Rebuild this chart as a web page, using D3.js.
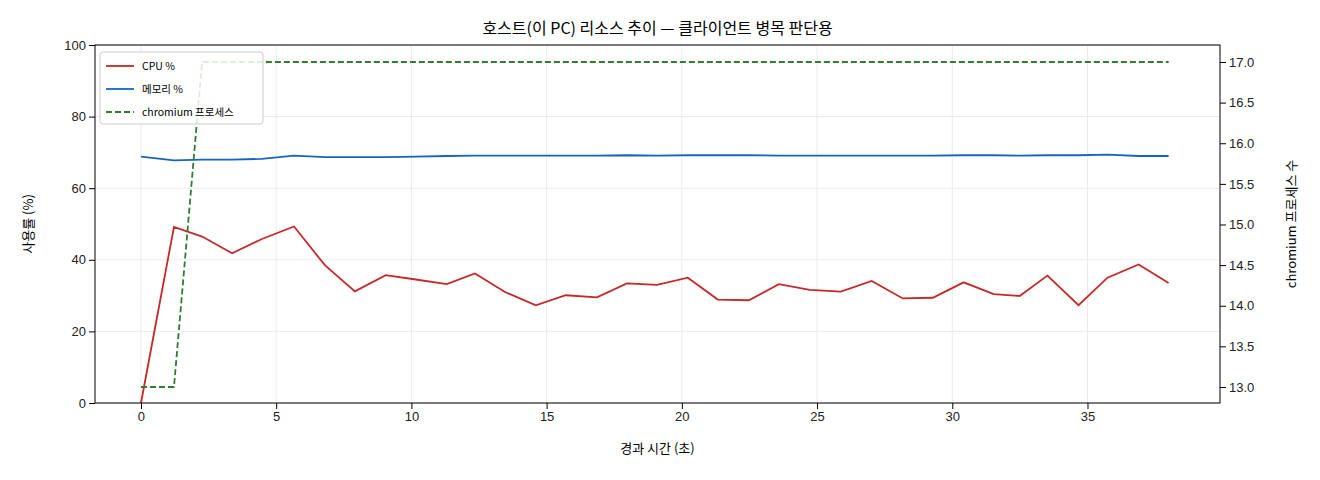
<!DOCTYPE html>
<html><head><meta charset="utf-8">
<script src="https://cdn.jsdelivr.net/npm/d3@7"></script>
<style>
body{margin:0;background:#fff;font-family:"Noto Sans CJK KR",sans-serif;}
.tick text{font-size:13px;fill:#222;}
</style></head><body>
<svg id="chart" width="1320" height="480"></svg>
<script>
const times = [0,1.22,2.26,3.37,4.47,5.66,6.80,7.91,9.05,10.16,11.31,12.35,13.46,14.60,15.71,16.86,17.97,19.08,20.22,21.33,22.48,23.59,24.73,25.88,27.02,28.17,29.28,30.42,31.53,32.49,33.52,34.67,35.74,36.89,38.00];
const cpu = [0,49.2,46.5,41.8,45.8,49.3,38.5,31.2,35.7,34.5,33.2,36.2,31,27.3,30.1,29.5,33.4,33,35,28.9,28.7,33.2,31.6,31.1,34.1,29.2,29.4,33.7,30.4,29.9,35.6,27.3,35,38.7,33.5];
const mem = [68.8,67.8,68,68,68.2,69.1,68.7,68.7,68.7,68.8,69,69.1,69.1,69.1,69.1,69.1,69.2,69.1,69.2,69.2,69.2,69.1,69.1,69.1,69.1,69.1,69.1,69.2,69.2,69.1,69.2,69.2,69.4,69,69];
const procs = [13,13,17,17,17,17,17,17,17,17,17,17,17,17,17,17,17,17,17,17,17,17,17,17,17,17,17,17,17,17,17,17,17,17,17];

const L = 95, R = 1220, T = 45, B = 403;
const svg = d3.select('#chart');
const x = d3.scaleLinear().domain([-1.7, 39.9]).range([L, R]);
const y = d3.scaleLinear().domain([0, 100]).range([B, T]);
const y2 = d3.scaleLinear().domain([12.803, 17.209]).range([B, T]);

// grid
svg.append('g').selectAll('line').data(d3.range(0, 40, 5)).join('line')
  .attr('x1', d => x(d)).attr('x2', d => x(d)).attr('y1', T).attr('y2', B)
  .attr('stroke', '#ebebeb');
svg.append('g').selectAll('line').data(d3.range(0, 101, 20)).join('line')
  .attr('x1', L).attr('x2', R).attr('y1', d => y(d)).attr('y2', d => y(d))
  .attr('stroke', '#ebebeb');

const line = (ys, sc) => d3.line().x((d, i) => x(times[i])).y(d => sc(d))(ys);
svg.append('path').attr('d', line(cpu, y)).attr('fill', 'none').attr('stroke', '#c62828').attr('stroke-width', 1.8);
svg.append('path').attr('d', line(mem, y)).attr('fill', 'none').attr('stroke', '#1565c0').attr('stroke-width', 1.8);
svg.append('path').attr('d', line(procs, y2)).attr('fill', 'none').attr('stroke', '#2e7d32').attr('stroke-width', 1.8).attr('stroke-dasharray', '6,3');

svg.append('rect').attr('x', L).attr('y', T).attr('width', R - L).attr('height', B - T)
  .attr('fill', 'none').attr('stroke', '#000').attr('stroke-width', 1);

svg.append('g').attr('transform', `translate(0,${B})`).call(d3.axisBottom(x).tickValues(d3.range(0, 40, 5)).tickSizeOuter(0)).select('.domain').remove();
svg.append('g').attr('transform', `translate(${L},0)`).call(d3.axisLeft(y).tickValues(d3.range(0, 101, 20)).tickSizeOuter(0)).select('.domain').remove();
svg.append('g').attr('transform', `translate(${R},0)`).call(d3.axisRight(y2).tickValues(d3.range(13, 17.01, 0.5)).tickFormat(d3.format('.1f')).tickSizeOuter(0)).select('.domain').remove();

svg.append('text').attr('x', (L + R) / 2).attr('y', 34).attr('text-anchor', 'middle').attr('font-size', 16).text('호스트(이 PC) 리소스 추이 — 클라이언트 병목 판단용');
svg.append('text').attr('x', (L + R) / 2).attr('y', 453).attr('text-anchor', 'middle').attr('font-size', 13).text('경과 시간 (초)');
svg.append('text').attr('transform', `translate(33,${(T + B) / 2}) rotate(-90)`).attr('text-anchor', 'middle').attr('font-size', 13).text('사용률 (%)');
svg.append('text').attr('transform', `translate(1296,${(T + B) / 2}) rotate(-90)`).attr('text-anchor', 'middle').attr('font-size', 13).text('chromium 프로세스 수');

// legend
const legendItems = [['CPU %', '#c62828', null], ['메모리 %', '#1565c0', null], ['chromium 프로세스', '#2e7d32', '6,3']];
const lg = svg.append('g').attr('transform', 'translate(100,52)');
lg.append('rect').attr('width', 163).attr('height', 72).attr('rx', 3).attr('fill', '#fff').attr('fill-opacity', 0.85).attr('stroke', '#ccc');
legendItems.forEach((d, i) => {
  const yy = 14 + i * 23;
  lg.append('line').attr('x1', 6).attr('x2', 34).attr('y1', yy).attr('y2', yy).attr('stroke', d[1]).attr('stroke-width', 1.8).attr('stroke-dasharray', d[2]);
  lg.append('text').attr('x', 42).attr('y', yy + 4).attr('font-size', 10.5).text(d[0]);
});
</script></body></html>
